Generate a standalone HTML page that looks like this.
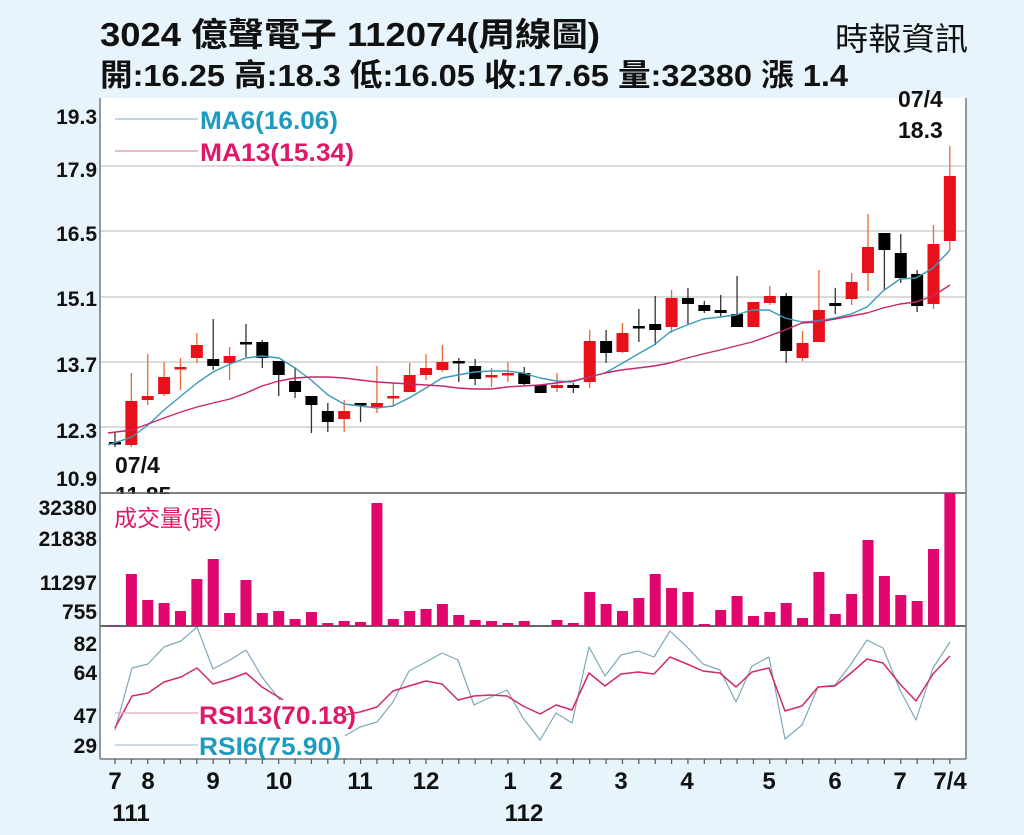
<!DOCTYPE html>
<html><head><meta charset="utf-8"><style>
body{margin:0;background:#e8f4fb;}
svg{display:block}
text{font-family:"Liberation Sans","Noto Sans CJK TC",sans-serif;}
</style></head><body>
<svg id="s" width="1024" height="835" xmlns="http://www.w3.org/2000/svg">
<rect width="1024" height="835" fill="#e8f4fb"/>
<rect x="100" y="98" width="866" height="661" fill="#fff"/>
<g id="grid" stroke="#cfcfcf" stroke-width="1.5">
<line x1="100" x2="966" y1="166" y2="166"/><line x1="100" x2="966" y1="231" y2="231"/>
<line x1="100" x2="966" y1="297" y2="297"/><line x1="100" x2="966" y1="362" y2="362"/>
<line x1="100" x2="966" y1="427" y2="427"/>
</g>
<rect x="112" y="105" width="245" height="60" fill="#fff"/>
<line x1="115" x2="198" y1="119" y2="119" stroke="#8cc0d8" stroke-width="1.2"/>
<line x1="115" x2="198" y1="151" y2="151" stroke="#e090b0" stroke-width="1.2"/>
<text x="200" y="129" font-size="25" font-weight="bold" fill="#1e9bc0" textLength="138" lengthAdjust="spacingAndGlyphs">MA6(16.06)</text>
<text x="200" y="161" font-size="25" font-weight="bold" fill="#e0186a" textLength="154" lengthAdjust="spacingAndGlyphs">MA13(15.34)</text>
<g id="cd"></g>
<g id="lines"></g>
<g font-size="23" font-weight="bold" fill="#111">
<text x="115" y="473">07/4</text><text x="115" y="503">11.85</text>
<text x="898" y="107">07/4</text><text x="898" y="138">18.3</text>
</g>
<rect x="101" y="494" width="864" height="12" fill="#fff"/>
<line x1="100" x2="966" y1="493" y2="493" stroke="#555" stroke-width="1.5"/>
<line x1="100" x2="966" y1="626" y2="626" stroke="#333" stroke-width="1.5"/>
<line x1="100" x2="966" y1="759" y2="759" stroke="#777" stroke-width="1.5"/>
<line x1="100" x2="100" y1="98" y2="759" stroke="#777" stroke-width="1.5"/>
<line x1="966" x2="966" y1="98" y2="759" stroke="#777" stroke-width="1.5"/>
<g id="vol" fill="#e0066e"></g>
<text x="114" y="526" font-size="23" fill="#e0186a">成交量(張)</text>
<g id="rsi"></g>
<rect x="198" y="700" width="147" height="58" fill="#fff"/>
<line x1="115" x2="198" y1="713" y2="713" stroke="#e8a8c0" stroke-width="1.2"/>
<line x1="115" x2="198" y1="745" y2="745" stroke="#a8c8d8" stroke-width="1.2"/>
<text x="199" y="724" font-size="25" font-weight="bold" fill="#e0186a" textLength="157" lengthAdjust="spacingAndGlyphs">RSI13(70.18)</text>
<text x="199" y="755" font-size="25" font-weight="bold" fill="#1e9bc0" textLength="142" lengthAdjust="spacingAndGlyphs">RSI6(75.90)</text>
<g font-size="21" font-weight="bold" fill="#111" text-anchor="end">
<text x="97" y="124">19.3</text><text x="97" y="177">17.9</text><text x="97" y="241">16.5</text>
<text x="97" y="306">15.1</text><text x="97" y="372">13.7</text><text x="97" y="438">12.3</text>
<text x="97" y="486">10.9</text>
<text x="97" y="515">32380</text><text x="97" y="546">21838</text><text x="97" y="590">11297</text><text x="97" y="619">755</text>
<text x="97" y="651">82</text><text x="97" y="680">64</text><text x="97" y="723">47</text><text x="97" y="753">29</text>
</g>
<g id="ticks" stroke="#555" stroke-width="1.2"></g>
<g font-size="24" font-weight="bold" fill="#111" text-anchor="middle">
<text x="115" y="789">7</text><text x="148" y="789">8</text><text x="213" y="789">9</text><text x="279" y="789">10</text>
<text x="360" y="789">11</text><text x="426" y="789">12</text><text x="510" y="789">1</text><text x="556" y="789">2</text>
<text x="621" y="789">3</text><text x="687" y="789">4</text><text x="769" y="789">5</text><text x="835" y="789">6</text>
<text x="900" y="789">7</text><text x="950" y="789">7/4</text>
<text x="131" y="821">111</text><text x="524" y="821">112</text>
</g>
<text x="100" y="46" font-size="33" font-weight="bold" fill="#111" textLength="500" lengthAdjust="spacingAndGlyphs">3024  億聲電子 112074(周線圖)</text>
<text x="100" y="86" font-size="31" font-weight="bold" fill="#111" textLength="748" lengthAdjust="spacingAndGlyphs">開:16.25 高:18.3 低:16.05 收:17.65 量:32380 漲 1.4</text>
<text x="968" y="50" font-size="32" fill="#111" text-anchor="end" textLength="133" lengthAdjust="spacingAndGlyphs">時報資訊</text>
</svg>
<script>
var NS="http://www.w3.org/2000/svg";
function el(p,t,a){var e=document.createElementNS(NS,t);for(var k in a)e.setAttribute(k,a[k]);document.getElementById(p).appendChild(e);return e;}
var C=[["b",443,443,432,447],["r",401,445,373,447],["r",396,400,354,405],["r",377,394,362,396],["r",368,368,358,390],
["r",345,358,333,363],["b",359,366,319,370],["r",356,363,347,380],["b",343,343,324,357],["b",342,358,340,368],
["b",361,375,361,396],["b",381,392,368,398],["b",396,405,396,433],["b",411,422,403,432],["r",411,419,400,432],
["b",404,404,403,422],["r",403,407,366,413],["r",397,397,383,407],["r",375,392,363,392],["r",368,375,354,380],
["r",362,370,345,372],["b",362,362,358,382],["b",366,379,359,385],["r",376,376,368,387],["r",374,374,362,382],
["b",373,384,367,385],["b",385,393,385,393],["r",385,388,373,392],["b",385,388,383,393],["r",341,382,330,388],
["b",341,353,330,363],["r",333,352,323,353],["b",327,327,309,342],["b",324,330,296,345],["r",298,327,290,333],
["b",298,304,288,325],["b",305,311,301,313],["b",310,313,295,317],["b",314,327,276,327],["r",302,327,302,327],
["r",296,303,286,305],["b",296,351,293,363],["r",343,358,331,361],["r",310,342,270,342],["b",303,306,288,314],
["r",282,299,273,305],["r",247,273,214,291],["b",233,250,233,290],["b",253,278,234,283],["b",274,306,270,312],
["r",244,304,225,309],["r",176,241,146,250]];
var V=[625,574,600,603,611,579,559,613,580,613,611,619,612,623,621,622,503,619,611,609,604,615,620,621,623,621,626,620,623,592,604,611,598,574,588,592,624,610,596,616,612,603,618,572,614,594,540,576,595,601,549,493];
function X(i){return 115+i*16.37;}
C.forEach(function(c,i){var x=X(i);var col=c[0]=="r"?"#e8101a":"#000";var wc=c[0]=="r"?"#e86a30":"#333";
el("cd","line",{x1:x,x2:x,y1:c[3],y2:c[4],stroke:wc,"stroke-width":1.3});
var h=c[2]-c[1];if(h<3){el("cd","rect",{x:x-6,y:c[1]-1,width:12,height:2.5,fill:col});}
else el("cd","rect",{x:x-6,y:c[1],width:12,height:h,fill:col});
el("ticks","line",{x1:x,x2:x,y1:759,y2:764});
var t=V[i];if(t<626)el("vol","rect",{x:x-5.5,y:t,width:11,height:626-t});});
function pl(p,pts,col,w){el(p,"polyline",{points:pts,fill:"none",stroke:col,"stroke-width":w||1.4,"stroke-linejoin":"round"});}
pl("lines","108,445 132,437 148,425 164,410 181,396 197,383 213,372 230,364 246,358 262,356 279,358 295,368 311,380 328,395 344,404 360,406 377,408 393,406 409,398 426,388 442,378 458,375 474,372 491,371 507,371 523,373 540,378 556,381 572,382 589,377 605,373 621,364 638,354 654,345 670,332 687,325 703,319 720,317 736,315 752,310 769,310 785,318 802,322 818,321 835,318 851,314 867,307 883,291 900,279 916,278 933,268 950,250","#3a9ab8");
pl("lines","108,433 132,430 148,424 164,418 181,412 197,407 213,403 230,399 246,393 262,386 279,381 295,378 311,377 328,377 344,378 360,380 377,382 393,383 409,384 426,385 442,386 458,388 474,389 491,389 507,387 523,386 540,385 556,383 572,381 589,377 605,373 621,370 638,368 654,366 670,363 687,358 703,354 720,350 736,346 752,342 769,336 785,330 802,323 818,322 835,319 851,316 867,313 883,308 900,304 916,302 933,296 950,285","#c8266a");
pl("rsi","115,730 132,668 148,664 164,647 181,641 197,627 213,669 230,660 246,650 262,677 280,700 300,740 343,737 360,727 377,722 393,702 409,671 426,662 442,653 458,660 474,705 491,697 507,690 523,718 540,740 556,713 572,723 589,647 605,676 621,655 638,651 654,657 670,631 687,647 703,664 720,670 736,702 752,666 769,657 785,739 802,725 818,687 835,685 851,664 867,640 883,648 900,690 916,720 933,668 950,642","#7ea8b8",1.2);
pl("rsi","115,728 132,696 148,693 164,682 181,677 197,668 213,684 230,679 246,673 262,687 280,698 300,712 344,715 360,712 377,707 393,691 409,686 426,681 442,684 458,700 474,696 491,695 507,696 523,706 540,714 556,705 572,710 589,673 605,686 621,674 638,672 654,674 670,657 687,664 703,671 720,673 736,687 752,672 769,668 785,711 802,706 818,687 835,686 851,673 867,659 883,663 900,684 916,701 933,674 950,656","#d02a6a",1.5);
</script>
</body></html>
